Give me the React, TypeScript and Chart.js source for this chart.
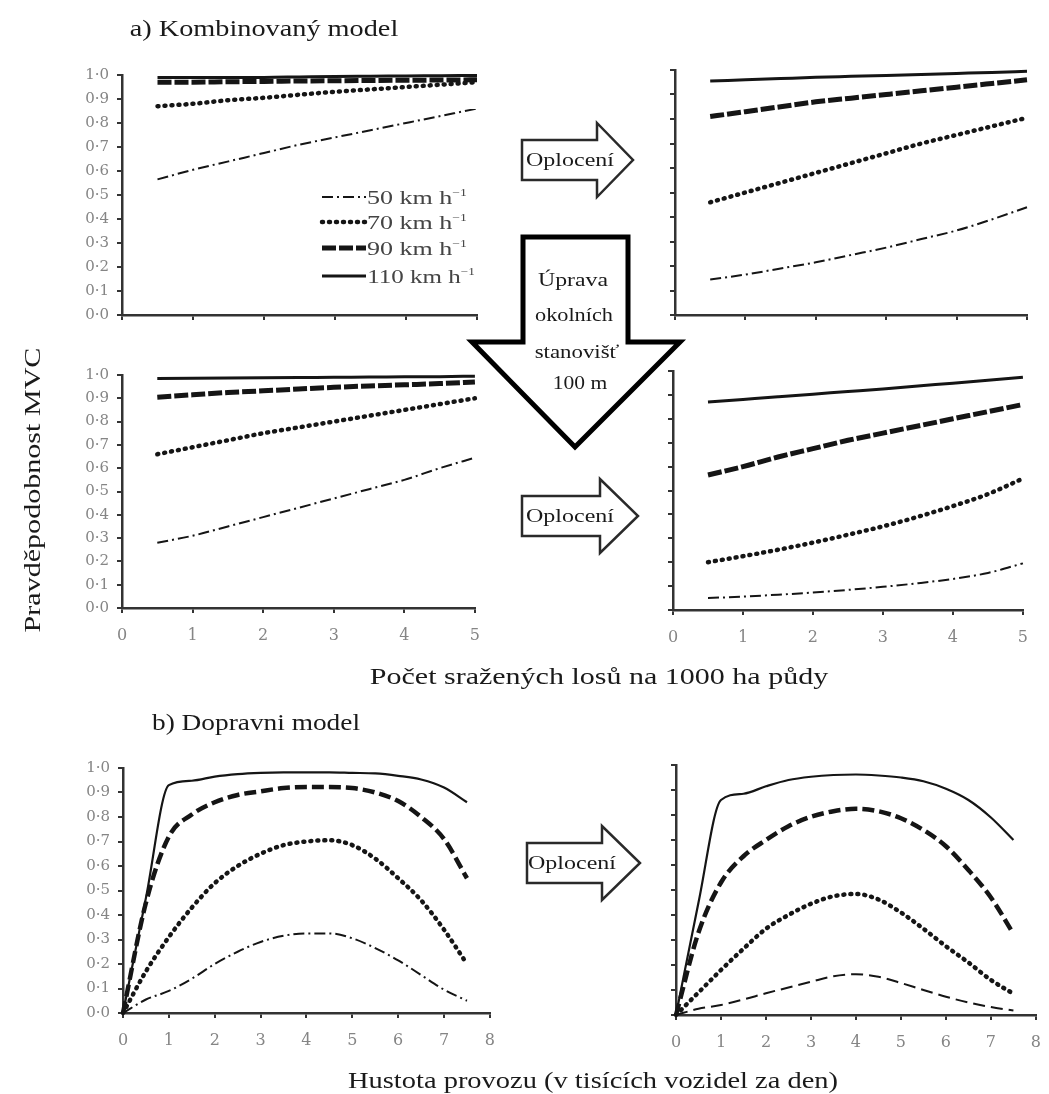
import React, { useEffect, useLayoutEffect, useRef } from "react";
import { Chart, registerables } from "chart.js";
Chart.register(...registerables);

// ---------- data ----------
const speeds = ["50", "70", "90", "110"];

// a) combined model, x = killed moose per 1000 ha
const xA = [0.5, 1, 1.5, 2, 2.5, 3, 3.5, 4, 4.5, 5];
const a1_50 = [0.565, 0.605, 0.64, 0.675, 0.71, 0.74, 0.77, 0.8, 0.83, 0.86];
const a1_70 = [0.87, 0.88, 0.895, 0.905, 0.918, 0.93, 0.94, 0.95, 0.96, 0.97];
const a1_90 = [0.97, 0.97, 0.972, 0.973, 0.975, 0.976, 0.977, 0.978, 0.979, 0.98];
const a1_110 = [0.99, 0.99, 0.99, 0.99, 0.992, 0.994, 0.995, 0.996, 0.997, 0.998];

const a2_50 = [0.145, 0.165, 0.19, 0.215, 0.245, 0.275, 0.31, 0.345, 0.39, 0.44];
const a2_70 = [0.46, 0.5, 0.54, 0.58, 0.62, 0.66, 0.7, 0.735, 0.77, 0.805];
const a2_90 = [0.81, 0.83, 0.85, 0.87, 0.885, 0.9, 0.915, 0.93, 0.945, 0.96];
const a2_110 = [0.955, 0.96, 0.965, 0.97, 0.974, 0.978, 0.982, 0.986, 0.99, 0.995];

const a3_50 = [0.28, 0.31, 0.35, 0.39, 0.43, 0.47, 0.51, 0.55, 0.6, 0.645];
const a3_70 = [0.66, 0.69, 0.72, 0.75, 0.775, 0.8, 0.825, 0.85, 0.875, 0.9];
const a3_90 = [0.905, 0.915, 0.925, 0.932, 0.94, 0.947, 0.953, 0.958, 0.963, 0.97];
const a3_110 = [0.985, 0.986, 0.987, 0.988, 0.989, 0.99, 0.991, 0.992, 0.993, 0.995];

const a4_50 = [0.05, 0.056, 0.064, 0.073, 0.084, 0.097, 0.112, 0.13, 0.155, 0.195];
const a4_70 = [0.2, 0.225, 0.252, 0.282, 0.315, 0.35, 0.39, 0.435, 0.485, 0.55];
const a4_90 = [0.565, 0.6, 0.64, 0.675, 0.71, 0.74, 0.77, 0.8, 0.83, 0.86];
const a4_110 = [0.87, 0.881, 0.892, 0.903, 0.914, 0.925, 0.937, 0.949, 0.961, 0.974];

// b) traffic model, x = traffic volume (thousands of vehicles per day)
const xB = [0, 0.5, 1, 1.5, 2, 2.5, 3, 3.5, 4, 4.5, 5, 5.5, 6, 6.5, 7, 7.5];
const b1_50 = [0, 0.055, 0.09, 0.14, 0.2, 0.25, 0.29, 0.315, 0.325, 0.325, 0.305, 0.265, 0.215, 0.155, 0.095, 0.05];
const b1_70 = [0, 0.17, 0.31, 0.43, 0.53, 0.6, 0.65, 0.685, 0.7, 0.705, 0.685, 0.63, 0.55, 0.46, 0.34, 0.2];
const b1_90 = [0, 0.45, 0.72, 0.81, 0.86, 0.89, 0.905, 0.918, 0.922, 0.922, 0.918, 0.9, 0.865, 0.8, 0.71, 0.55];
const b1_110 = [0, 0.47, 0.93, 0.948, 0.965, 0.975, 0.98, 0.982, 0.982, 0.982, 0.98, 0.978, 0.968, 0.953, 0.92, 0.86];

const b2_50 = [0, 0.025, 0.04, 0.062, 0.087, 0.11, 0.133, 0.155, 0.163, 0.153, 0.128, 0.1, 0.073, 0.05, 0.032, 0.018];
const b2_70 = [0, 0.09, 0.18, 0.265, 0.345, 0.4, 0.445, 0.475, 0.484, 0.462, 0.41, 0.345, 0.275, 0.21, 0.14, 0.085];
const b2_90 = [0, 0.33, 0.53, 0.635, 0.7, 0.755, 0.793, 0.815, 0.825, 0.815, 0.787, 0.74, 0.675, 0.58, 0.47, 0.325];
const b2_110 = [0, 0.45, 0.86, 0.885, 0.915, 0.94, 0.953, 0.96, 0.962, 0.958, 0.95, 0.935, 0.905, 0.86, 0.79, 0.7];

// ---------- styles ----------
type Style = { width: number; dash: number[]; cap?: CanvasLineCap };
const st50: Style = { width: 2, dash: [11, 4, 2, 4] };
const st50b2: Style = { width: 2, dash: [12, 6] };
const st70: Style = { width: 4.5, dash: [1, 6], cap: "round" };
const st90: Style = { width: 5, dash: [14, 3] };
const st90b: Style = { width: 4.5, dash: [12, 5] };
const st110: Style = { width: 3, dash: [] };
const st110b: Style = { width: 2.2, dash: [] };

const LINE = "#151515";
const AXIS = "#333";
const TICKC = "#858585";
const SERIF = '"Liberation Serif", "Times New Roman", serif';
const TICKFONT = '"DejaVu Serif", serif';

type Series = { x: number[]; y: number[]; s: Style };

function Panel(props: {
  left: number; top: number; w: number; h: number; xMax: number;
  xLabels: boolean; yLabels: boolean; series: Series[];
}) {
  const { left, top, w, h, xMax, xLabels, yLabels, series } = props;
  const ref = useRef<HTMLCanvasElement>(null);
  const padL = 50, padR = 16, padT = 12, padB = 36;
  useEffect(() => {
    if (!ref.current) return;
    const chart = new Chart(ref.current, {
      type: "line",
      data: {
        datasets: series.map((sr) => ({
          data: sr.x.map((x, i) => ({ x, y: sr.y[i] })),
          borderColor: LINE,
          borderWidth: sr.s.width,
          borderDash: sr.s.dash,
          borderCapStyle: sr.s.cap || "butt",
          pointRadius: 0,
          cubicInterpolationMode: "monotone",
          fill: false,
          clip: false as any,
        })),
      },
      options: {
        animation: false,
        responsive: false,
        devicePixelRatio: 1,
        events: [],
        layout: { padding: { top: padT, right: padR, left: 0, bottom: 0 } },
        plugins: { legend: { display: false }, tooltip: { enabled: false } },
        scales: {
          x: {
            type: "linear", min: 0, max: xMax,
            ticks: {
              stepSize: 1, display: xLabels, color: TICKC, padding: 13,
              font: { family: TICKFONT, size: 16 }, maxRotation: 0, autoSkip: false,
            },
            grid: { drawOnChartArea: false, drawTicks: true, tickLength: 5, color: AXIS, lineWidth: 2 },
            border: { display: true, color: AXIS, width: 2.5 },
            afterFit: (s: any) => { s.height = padB; },
          },
          y: {
            type: "linear", min: 0, max: 1,
            ticks: {
              stepSize: 0.1, display: yLabels, color: TICKC, padding: 8,
              font: { family: TICKFONT, size: 15 },
              callback: (v: any) => Number(v).toFixed(1).replace(".", "·"),
            },
            grid: { drawOnChartArea: false, drawTicks: true, tickLength: 5, color: AXIS, lineWidth: 2 },
            border: { display: true, color: AXIS, width: 2.5 },
            afterFit: (s: any) => { s.width = padL; },
          },
        },
      } as any,
    });
    return () => chart.destroy();
  }, []);
  return (
    <canvas
      ref={ref}
      width={w + padL + padR}
      height={h + padT + padB}
      style={{ position: "absolute", left: left - padL, top: top - padT }}
    />
  );
}

function Label(props: {
  cx: number; cy: number; width?: number; size?: number; color?: string;
  rotate?: boolean; children: React.ReactNode; family?: string;
}) {
  const { cx, cy, width, size = 20, color = "#1a1a1a", rotate, children, family = SERIF } = props;
  const ref = useRef<HTMLSpanElement>(null);
  useLayoutEffect(() => {
    const el = ref.current;
    if (!el) return;
    const sx = width ? width / el.offsetWidth : 1;
    el.style.transform = `translate(-50%, -50%)${rotate ? " rotate(-90deg)" : ""} scaleX(${sx})`;
  }, []);
  return (
    <span
      ref={ref}
      style={{
        position: "absolute", left: cx, top: cy, whiteSpace: "nowrap",
        fontFamily: family, fontSize: size, color, lineHeight: 1,
        transform: "translate(-50%, -50%)",
      }}
    >
      {children}
    </span>
  );
}

function rightArrow(x0: number, cy: number, br: number, tip: number, bh = 20, hh = 37) {
  return `M${x0},${cy - bh} L${br},${cy - bh} L${br},${cy - hh} L${tip},${cy} L${br},${cy + hh} L${br},${cy + bh} L${x0},${cy + bh} Z`;
}

const mk = (x: number[], ys: number[][], styles: Style[]): Series[] =>
  ys.map((y, i) => ({ x, y, s: styles[i] }));

export default function App() {
  const stA = [st50, st70, st90, st110];
  const stB1 = [st50, st70, st90b, st110b];
  const stB2 = [st50b2, st70, st90b, st110b];
  const legendRows = [197, 222, 248, 276];
  return (
    <div style={{ position: "absolute", left: 0, top: 0, width: 1049, height: 1094, overflow: "hidden", background: "#fff" }}>
      <Panel left={122} top={70} w={355} h={245} xMax={5} xLabels={false} yLabels={true}
        series={mk(xA, [a1_50, a1_70, a1_90, a1_110], stA)} />
      <Panel left={675} top={70} w={352} h={245} xMax={5} xLabels={false} yLabels={false}
        series={mk(xA, [a2_50, a2_70, a2_90, a2_110], stA)} />
      <Panel left={122} top={370} w={355} h={238} xMax={5} xLabels={true} yLabels={true}
        series={mk(xA, [a3_50, a3_70, a3_90, a3_110], stA)} />
      <Panel left={673} top={371} w={352} h={239} xMax={5} xLabels={true} yLabels={false}
        series={mk(xA, [a4_50, a4_70, a4_90, a4_110], stA)} />
      <Panel left={123} top={763} w={369} h={250} xMax={8} xLabels={true} yLabels={true}
        series={mk(xB, [b1_50, b1_70, b1_90, b1_110], stB1)} />
      <Panel left={676} top={765} w={362} h={250} xMax={8} xLabels={true} yLabels={false}
        series={mk(xB, [b2_50, b2_70, b2_90, b2_110], stB2)} />

      <svg width={1049} height={1094} style={{ position: "absolute", left: 0, top: 0 }}>
        {[st50, st70, st90, st110].map((s, i) => (
          <line key={i} x1={322} x2={366} y1={legendRows[i]} y2={legendRows[i]}
            stroke={LINE} strokeWidth={s.width} strokeDasharray={s.dash.length ? s.dash.join(" ") : undefined}
            strokeLinecap={s.cap || "butt"} />
        ))}
        <path d={rightArrow(522, 160, 597, 633)} fill="#fff" stroke="#2a2a2a" strokeWidth={2.5} />
        <path d={rightArrow(522, 516, 600, 638)} fill="#fff" stroke="#2a2a2a" strokeWidth={2.5} />
        <path d={rightArrow(527, 863, 602, 640)} fill="#fff" stroke="#2a2a2a" strokeWidth={2.5} />
        <path d="M523,237 L628,237 L628,342 L680,342 L575,447 L472,342 L523,342 Z"
          fill="#fff" stroke="#000" strokeWidth={5} strokeLinejoin="miter" />
      </svg>

      {legendRows.map((y, i) => (
        <Label key={i} cx={367 + (i === 3 ? 54 : 50)} cy={y} width={i === 3 ? 108 : 100} size={19} color="#444">
          {speeds[i]} km h<sup style={{ fontSize: 10 }}>−1</sup>
        </Label>
      ))}

      <Label cx={264} cy={28} width={268} size={23}>a) Kombinovaný model</Label>
      <Label cx={599} cy={676} width={458} size={23}>Počet sražených losů na 1000 ha půdy</Label>
      <Label cx={256} cy={722} width={208} size={23}>b) Dopravni model</Label>
      <Label cx={593} cy={1080} width={490} size={23}>Hustota provozu (v tisících vozidel za den)</Label>
      <Label cx={32} cy={490} width={285} size={23} rotate>Pravděpodobnost MVC</Label>

      <Label cx={570} cy={160} width={88} size={18}>Oplocení</Label>
      <Label cx={570} cy={516} width={88} size={18}>Oplocení</Label>
      <Label cx={572} cy={863} width={88} size={18}>Oplocení</Label>

      <Label cx={573} cy={280} width={70} size={18}>Úprava</Label>
      <Label cx={574} cy={315} width={78} size={18}>okolních</Label>
      <Label cx={577} cy={352} width={85} size={18}>stanovišť</Label>
      <Label cx={580} cy={383} width={55} size={18}>100 m</Label>
    </div>
  );
}
